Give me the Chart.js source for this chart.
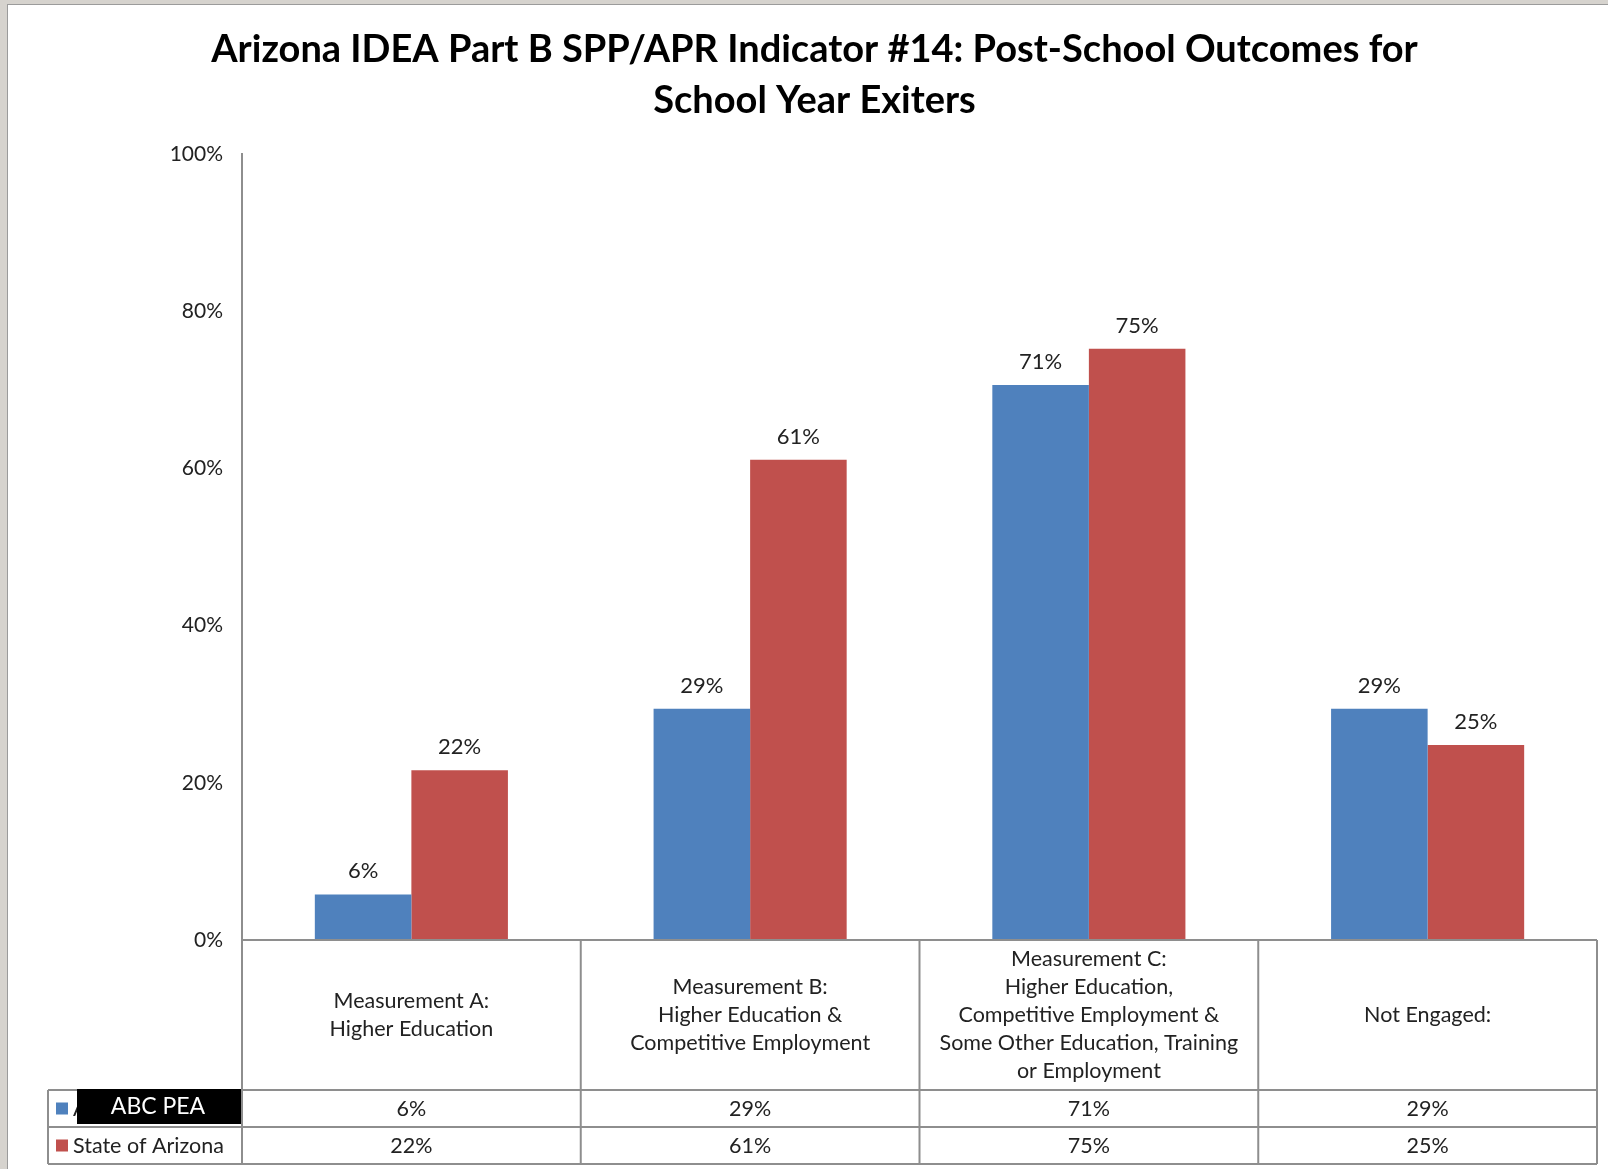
<!DOCTYPE html>
<html>
<head>
<meta charset="utf-8">
<script src="https://cdn.jsdelivr.net/npm/chart.js@4.4.1/dist/chart.umd.min.js"></script>
<style>
  html, body { margin: 0; padding: 0; background: #d6d3ce; overflow: hidden; }
  #frame {
    position: absolute; left: 7px; top: 4px; width: 1601px; height: 1165px;
    background: #fff; border-left: 1px solid #9b9b9b; border-top: 1px solid #9b9b9b;
  }
  #chart { display: block; }
</style>
</head>
<body>
<div id="frame"><canvas id="chart" width="1600" height="1164"></canvas></div>
<script>
const titleLines = [
  "Arizona IDEA Part B SPP/APR Indicator #14: Post-School Outcomes for",
  "School Year Exiters"
];
const categories = [
  ["Measurement A:", "Higher Education"],
  ["Measurement B:", "Higher Education &", "Competitive Employment"],
  ["Measurement C:", "Higher Education,", "Competitive Employment &", "Some Other Education, Training", "or Employment"],
  ["Not Engaged:"]
];
const seriesNames = ["ABC PEA", "State of Arizona"];
const abcPea = [5.8, 29.4, 70.6, 29.4];
const stateArizona = [21.6, 61.1, 75.2, 24.8];
const yTicks = [0, 20, 40, 60, 80, 100];

const FONT = "Lato, 'Open Sans', sans-serif";
const blue = "#4F81BD";
const red = "#C0504D";
const lineGray = "#8e8e8e";
const fmt = v => Math.round(v) + "%";

// labels above the bars
const barLabels = {
  id: "barLabels",
  afterDatasetsDraw(chart) {
    const ctx = chart.ctx;
    ctx.save();
    ctx.font = "22px " + FONT;
    ctx.fillStyle = "#222";
    ctx.textAlign = "center";
    ctx.textBaseline = "middle";
    chart.data.datasets.forEach((ds, di) => {
      chart.getDatasetMeta(di).data.forEach((bar, i) => {
        ctx.fillText(fmt(ds.data[i]), bar.x, bar.y - 23);
      });
    });
    ctx.restore();
  }
};

// Excel style data table under the plot
const dataTable = {
  id: "dataTable",
  afterDraw(chart) {
    const ctx = chart.ctx;
    const area = chart.chartArea;
    const n = categories.length;
    const cw = (area.right - area.left) / n;
    const headTop = area.bottom;
    const rowTop = headTop + 150;
    const rowH = 37;
    const legendLeft = 40;
    ctx.save();
    ctx.strokeStyle = lineGray;
    ctx.lineWidth = 2;
    ctx.beginPath();
    ctx.moveTo(area.left, headTop); ctx.lineTo(area.right, headTop);
    ctx.moveTo(legendLeft, rowTop); ctx.lineTo(area.right, rowTop);
    ctx.moveTo(legendLeft, rowTop + rowH); ctx.lineTo(area.right, rowTop + rowH);
    ctx.moveTo(legendLeft, rowTop + 2 * rowH); ctx.lineTo(area.right, rowTop + 2 * rowH);
    ctx.moveTo(legendLeft, rowTop); ctx.lineTo(legendLeft, rowTop + 2 * rowH);
    for (let i = 0; i <= n; i++) {
      const x = area.left + i * cw;
      ctx.moveTo(x, headTop); ctx.lineTo(x, rowTop + 2 * rowH);
    }
    ctx.stroke();

    ctx.font = "21.5px " + FONT;
    ctx.fillStyle = "#222";
    ctx.textAlign = "center";
    ctx.textBaseline = "middle";
    const lh = 28;
    categories.forEach((lines, i) => {
      const cx = area.left + (i + 0.5) * cw;
      const cy = headTop + 75 - (lines.length - 1) * lh / 2;
      lines.forEach((t, k) => ctx.fillText(t, cx, cy + k * lh));
      chart.data.datasets.forEach((ds, di) => {
        ctx.fillText(fmt(ds.data[i]), cx, rowTop + di * rowH + rowH / 2 + 1);
      });
    });

    // legend keys
    ctx.textAlign = "left";
    chart.data.datasets.forEach((ds, di) => {
      const cy = rowTop + di * rowH + rowH / 2;
      ctx.fillStyle = ds.backgroundColor;
      ctx.fillRect(legendLeft + 8, cy - 6, 12, 12);
      ctx.fillStyle = "#222";
      ctx.fillText(ds.label, legendLeft + 25, cy + 1);
    });
    // redaction box over the first series name
    ctx.fillStyle = "#000";
    ctx.fillRect(69, rowTop - 1, 164, 35);
    ctx.fillStyle = "#fff";
    ctx.textAlign = "center";
    ctx.font = "23px " + FONT;
    ctx.fillText(seriesNames[0], 150, rowTop + 17);
    ctx.restore();
  }
};

new Chart(document.getElementById("chart"), {
  type: "bar",
  data: {
    labels: categories.map(c => c.join(" ")),
    datasets: [
      { label: seriesNames[0], data: abcPea, backgroundColor: blue },
      { label: seriesNames[1], data: stateArizona, backgroundColor: red }
    ]
  },
  options: {
    responsive: false,
    animation: false,
    datasets: {
      bar: { categoryPercentage: 0.57, barPercentage: 1 }
    },
    layout: { padding: { left: 24, right: 11, top: 0, bottom: 5 } },
    plugins: {
      legend: { display: false },
      tooltip: { enabled: false },
      title: {
        display: true,
        text: titleLines,
        color: "#000",
        font: { family: FONT, size: 38, weight: "bold", lineHeight: 1.34 },
        padding: { top: 19, bottom: 28 }
      }
    },
    scales: {
      x: {
        grid: { display: false, drawTicks: false },
        border: { display: false },
        ticks: { display: false },
        afterFit(scale) { scale.height = 224; }
      },
      y: {
        min: 0,
        max: 100,
        afterBuildTicks(scale) { scale.ticks = yTicks.map(v => ({ value: v })); },
        grid: { display: false, drawTicks: false },
        border: { display: true, color: lineGray, width: 2 },
        ticks: {
          padding: 19,
          color: "#222",
          font: { family: FONT, size: 21 },
          callback: v => v + "%"
        },
        afterFit(scale) { scale.width = 210; }
      }
    }
  },
  plugins: [barLabels, dataTable]
});
</script>
</body>
</html>
